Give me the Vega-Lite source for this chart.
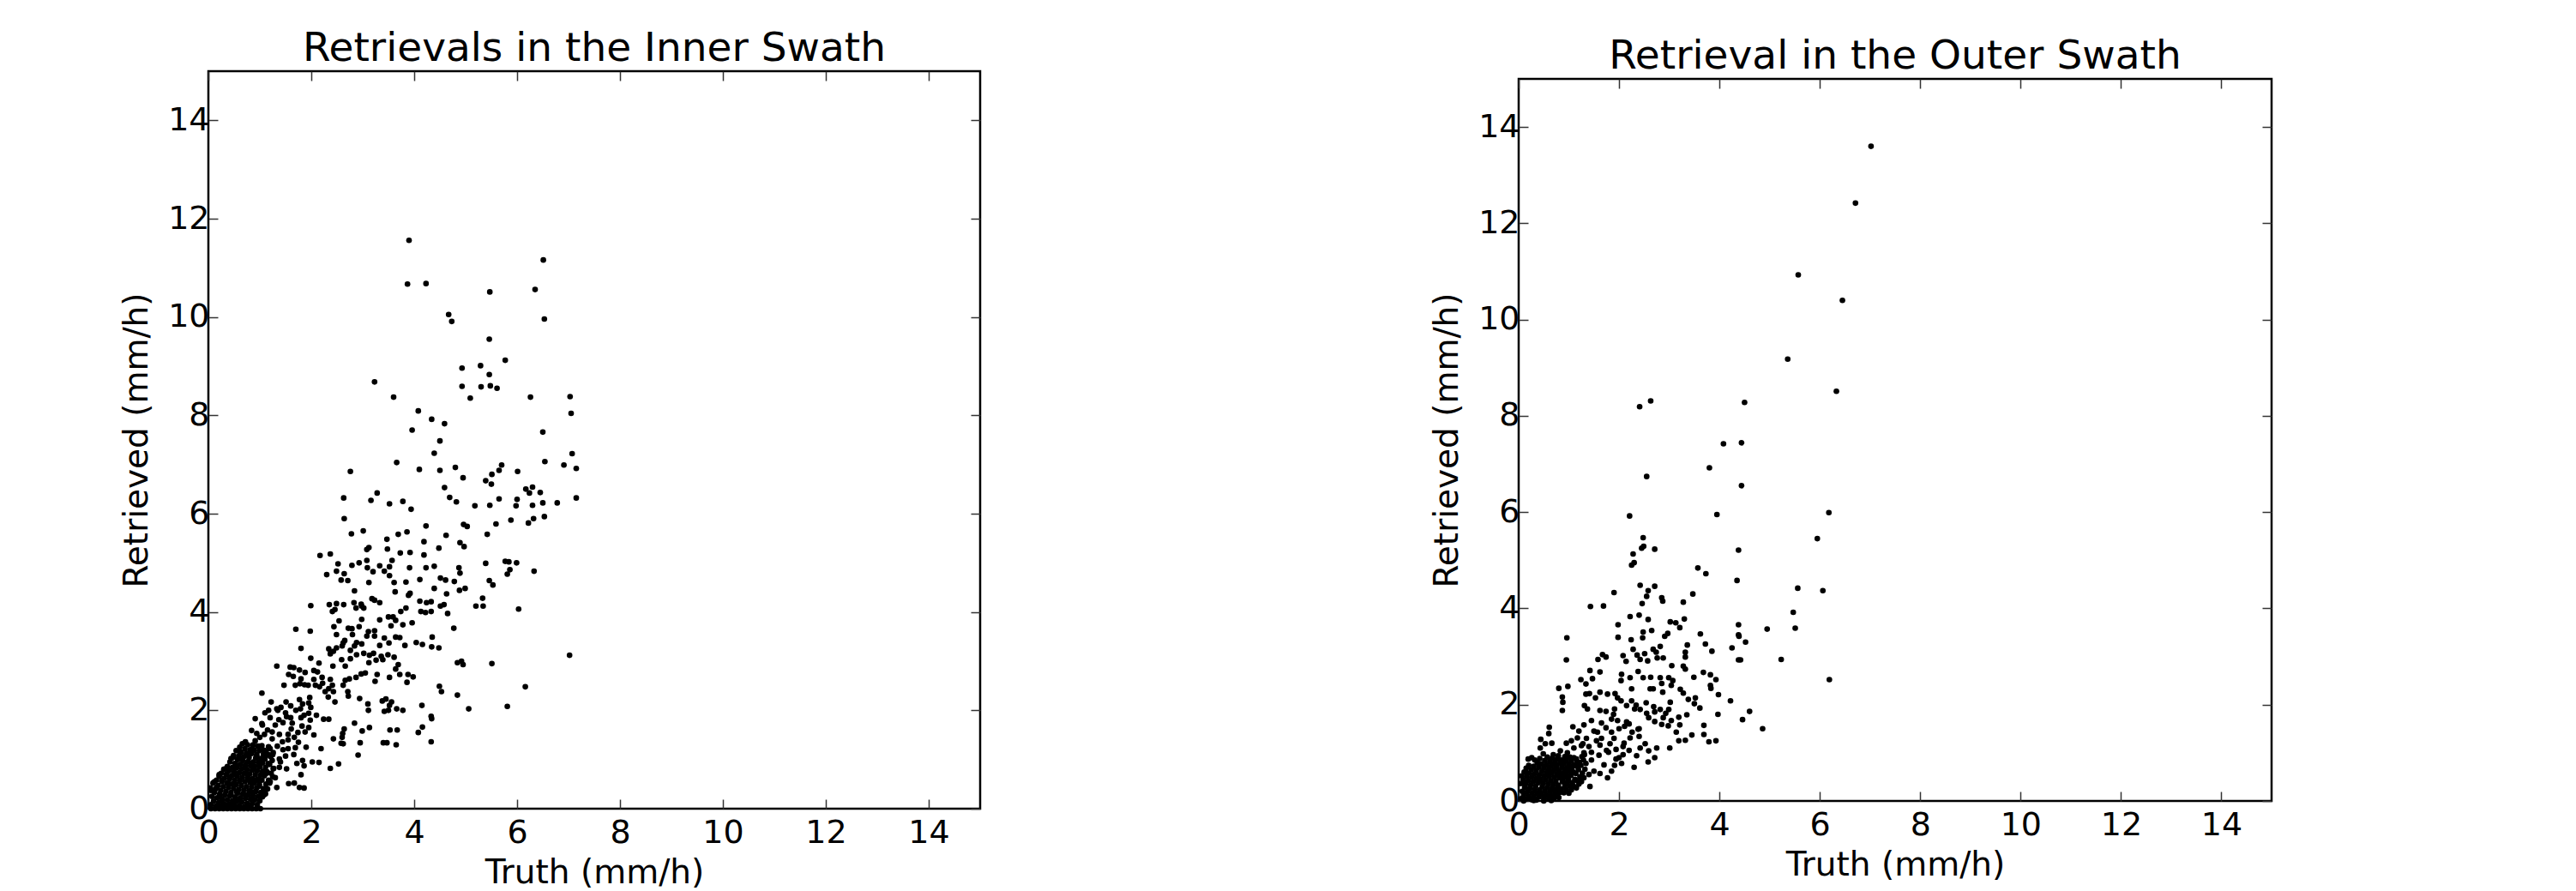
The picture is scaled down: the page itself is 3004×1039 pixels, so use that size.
{
"$schema": "https://vega.github.io/schema/vega-lite/v6.json",
"background": "white",
"padding": {"left": 139, "top": 32, "right": 0, "bottom": 0},
"bounds": "flush",
"center": true,
"spacing": 628,
"config": {
  "font": "DejaVu Sans",
  "view": {"stroke": "black", "strokeWidth": 2.5},
  "axis": {"grid": false, "domain": false, "ticks": true, "tickSize": -11, "tickColor": "#333333", "tickWidth": 1.5, "labelFontSize": 38, "labelColor": "black", "labelFont": "DejaVu Sans", "titleFontSize": 39, "titleFontWeight": "normal", "titleColor": "black", "titleFont": "DejaVu Sans", "labelFlush": false},
  "title": {"fontSize": 47, "fontWeight": "normal", "color": "black", "font": "DejaVu Sans", "offset": 1, "baseline": "alphabetic"},
  "point": {"filled": true, "color": "black", "size": 44, "opacity": 1, "strokeWidth": 0}
},
"datasets": {
"inner": [
{"truth":3.90,"retrieved":11.56},{"truth":3.87,"retrieved":10.67},{"truth":4.23,"retrieved":10.68},{"truth":4.67,"retrieved":10.05},{"truth":4.73,"retrieved":9.91},{"truth":5.47,"retrieved":10.51},{"truth":6.51,"retrieved":11.16},{"truth":6.35,"retrieved":10.56},{"truth":6.53,"retrieved":9.96},{"truth":5.46,"retrieved":9.55},{"truth":5.77,"retrieved":9.12},{"truth":4.93,"retrieved":8.96},{"truth":5.29,"retrieved":9.01},{"truth":5.46,"retrieved":8.83},{"truth":4.93,"retrieved":8.59},{"truth":5.30,"retrieved":8.58},{"truth":5.48,"retrieved":8.60},{"truth":5.61,"retrieved":8.55},{"truth":5.09,"retrieved":8.35},{"truth":3.23,"retrieved":8.68},{"truth":3.60,"retrieved":8.37},{"truth":6.26,"retrieved":8.37},{"truth":7.03,"retrieved":8.38},{"truth":7.05,"retrieved":8.04},{"truth":4.08,"retrieved":8.09},{"truth":4.34,"retrieved":7.92},{"truth":4.59,"retrieved":7.83},{"truth":3.96,"retrieved":7.70},{"truth":4.50,"retrieved":7.48},{"truth":6.50,"retrieved":7.66},{"truth":4.39,"retrieved":7.23},{"truth":7.07,"retrieved":7.22},{"truth":3.66,"retrieved":7.04},{"truth":6.54,"retrieved":7.06},{"truth":6.91,"retrieved":6.99},{"truth":2.76,"retrieved":6.86},{"truth":4.10,"retrieved":6.90},{"truth":4.50,"retrieved":6.88},{"truth":4.80,"retrieved":6.94},{"truth":4.95,"retrieved":6.73},{"truth":5.70,"retrieved":6.99},{"truth":5.65,"retrieved":6.88},{"truth":5.51,"retrieved":6.80},{"truth":5.39,"retrieved":6.67},{"truth":5.50,"retrieved":6.60},{"truth":6.01,"retrieved":6.86},{"truth":7.15,"retrieved":6.92},{"truth":4.59,"retrieved":6.53},{"truth":6.17,"retrieved":6.50},{"truth":6.30,"retrieved":6.54},{"truth":6.24,"retrieved":6.42},{"truth":6.45,"retrieved":6.43},{"truth":2.63,"retrieved":6.32},{"truth":3.16,"retrieved":6.27},{"truth":3.28,"retrieved":6.42},{"truth":3.52,"retrieved":6.20},{"truth":3.78,"retrieved":6.25},{"truth":3.94,"retrieved":6.09},{"truth":4.69,"retrieved":6.33},{"truth":4.82,"retrieved":6.24},{"truth":5.18,"retrieved":6.16},{"truth":5.47,"retrieved":6.17},{"truth":5.65,"retrieved":6.30},{"truth":5.98,"retrieved":6.16},{"truth":6.00,"retrieved":6.29},{"truth":6.30,"retrieved":6.17},{"truth":6.50,"retrieved":6.22},{"truth":6.78,"retrieved":6.22},{"truth":7.15,"retrieved":6.32},
{"truth":2.64,"retrieved":5.90},{"truth":4.23,"retrieved":5.75},{"truth":4.96,"retrieved":5.78},{"truth":5.03,"retrieved":5.74},{"truth":5.59,"retrieved":5.79},{"truth":5.88,"retrieved":5.87},{"truth":6.22,"retrieved":5.81},{"truth":6.32,"retrieved":5.90},{"truth":6.53,"retrieved":5.94},{"truth":2.78,"retrieved":5.59},{"truth":3.01,"retrieved":5.65},{"truth":3.69,"retrieved":5.58},{"truth":3.86,"retrieved":5.63},{"truth":4.62,"retrieved":5.56},{"truth":5.42,"retrieved":5.58},{"truth":3.47,"retrieved":5.48},{"truth":4.19,"retrieved":5.43},{"truth":4.89,"retrieved":5.41},{"truth":4.97,"retrieved":5.33},{"truth":3.12,"retrieved":5.31},{"truth":3.08,"retrieved":5.27},{"truth":4.48,"retrieved":5.30},{"truth":3.48,"retrieved":5.28},{"truth":3.73,"retrieved":5.20},{"truth":3.92,"retrieved":5.21},{"truth":4.19,"retrieved":5.16},{"truth":2.17,"retrieved":5.15},{"truth":2.37,"retrieved":5.18},{"truth":5.39,"retrieved":4.99},{"truth":5.77,"retrieved":5.03},{"truth":5.84,"retrieved":5.02},{"truth":5.99,"retrieved":5.00},{"truth":2.52,"retrieved":4.98},{"truth":2.79,"retrieved":4.95},{"truth":2.93,"retrieved":5.00},{"truth":3.08,"retrieved":5.05},{"truth":3.09,"retrieved":4.90},{"truth":3.20,"retrieved":4.82},{"truth":3.33,"retrieved":4.94},{"truth":3.52,"retrieved":4.92},{"truth":3.57,"retrieved":5.05},{"truth":3.42,"retrieved":4.83},{"truth":3.91,"retrieved":4.90},{"truth":4.23,"retrieved":4.90},{"truth":4.39,"retrieved":4.93},{"truth":4.87,"retrieved":4.90},{"truth":4.89,"retrieved":4.79},{"truth":6.33,"retrieved":4.83},{"truth":5.86,"retrieved":4.86},{"truth":5.81,"retrieved":4.77},{"truth":2.30,"retrieved":4.76},{"truth":2.49,"retrieved":4.83},{"truth":2.58,"retrieved":4.65},{"truth":2.71,"retrieved":4.64},{"truth":2.64,"retrieved":4.78},{"truth":3.12,"retrieved":4.60},{"truth":3.52,"retrieved":4.74},{"truth":3.61,"retrieved":4.60},{"truth":3.84,"retrieved":4.61},{"truth":4.11,"retrieved":4.66},{"truth":4.51,"retrieved":4.69},{"truth":4.61,"retrieved":4.65},{"truth":4.78,"retrieved":4.62},{"truth":5.46,"retrieved":4.64},{"truth":5.53,"retrieved":4.55},{"truth":2.84,"retrieved":4.43},{"truth":3.63,"retrieved":4.41},{"truth":3.89,"retrieved":4.34},{"truth":3.92,"retrieved":4.38},{"truth":4.39,"retrieved":4.48},{"truth":4.88,"retrieved":4.44},{"truth":4.99,"retrieved":4.48},{"truth":4.63,"retrieved":4.37},{"truth":5.33,"retrieved":4.28},{"truth":5.20,"retrieved":4.12},{"truth":5.34,"retrieved":4.12},{"truth":6.03,"retrieved":4.06},{"truth":1.99,"retrieved":4.13},{"truth":2.35,"retrieved":4.15},{"truth":2.49,"retrieved":4.17},{"truth":2.41,"retrieved":4.01},{"truth":2.46,"retrieved":4.05},{"truth":2.63,"retrieved":4.15},{"truth":2.83,"retrieved":4.19},{"truth":2.97,"retrieved":4.16},{"truth":3.02,"retrieved":4.08},{"truth":2.87,"retrieved":4.08},{"truth":2.98,"retrieved":4.12},{"truth":3.18,"retrieved":4.27},{"truth":3.23,"retrieved":4.24},{"truth":3.33,"retrieved":4.19},{"truth":4.11,"retrieved":4.22},{"truth":4.24,"retrieved":4.19},{"truth":4.33,"retrieved":4.21},{"truth":4.13,"retrieved":4.01},{"truth":4.22,"retrieved":3.99},{"truth":4.33,"retrieved":4.01},{"truth":4.51,"retrieved":4.12},{"truth":4.58,"retrieved":4.15},{"truth":4.65,"retrieved":3.97},{"truth":3.84,"retrieved":4.08},{"truth":3.74,"retrieved":4.01},{"truth":3.50,"retrieved":3.90},{"truth":3.59,"retrieved":3.90},{"truth":3.64,"retrieved":3.83},{"truth":3.78,"retrieved":3.74},{"truth":3.96,"retrieved":3.78},{"truth":2.54,"retrieved":3.82},{"truth":2.98,"retrieved":3.85},{"truth":3.33,"retrieved":3.84},{"truth":3.55,"retrieved":3.72},{"truth":1.70,"retrieved":3.65},{"truth":1.98,"retrieved":3.61},{"truth":2.44,"retrieved":3.70},{"truth":2.49,"retrieved":3.54},{"truth":2.72,"retrieved":3.67},{"truth":2.79,"retrieved":3.66},{"truth":2.93,"retrieved":3.70},{"truth":3.11,"retrieved":3.60},{"truth":3.23,"retrieved":3.62},{"truth":3.23,"retrieved":3.51},{"truth":3.08,"retrieved":3.51},{"truth":2.80,"retrieved":3.54},{"truth":3.42,"retrieved":3.47},{"truth":3.64,"retrieved":3.49},{"truth":3.72,"retrieved":3.48},{"truth":3.82,"retrieved":3.32},{"truth":3.51,"retrieved":3.37},{"truth":4.04,"retrieved":3.38},{"truth":4.16,"retrieved":3.34},{"truth":4.35,"retrieved":3.49},{"truth":4.34,"retrieved":3.29},{"truth":4.48,"retrieved":3.27},{"truth":4.77,"retrieved":3.67},{"truth":1.80,"retrieved":3.26},{"truth":1.99,"retrieved":3.06},{"truth":2.15,"retrieved":2.96},{"truth":2.34,"retrieved":3.25},{"truth":2.37,"retrieved":3.15},{"truth":2.43,"retrieved":3.20},{"truth":2.49,"retrieved":3.27},{"truth":2.60,"retrieved":3.31},{"truth":2.62,"retrieved":3.37},{"truth":2.65,"retrieved":3.42},{"truth":2.76,"retrieved":3.22},{"truth":2.84,"retrieved":3.31},{"truth":2.88,"retrieved":3.38},{"truth":2.98,"retrieved":3.35},{"truth":2.76,"retrieved":3.05},{"truth":2.88,"retrieved":3.13},{"truth":2.66,"retrieved":2.90},{"truth":2.59,"retrieved":3.03},{"truth":3.02,"retrieved":3.16},{"truth":3.13,"retrieved":3.12},{"truth":3.21,"retrieved":3.16},{"truth":3.36,"retrieved":3.10},{"truth":3.39,"retrieved":3.03},{"truth":3.49,"retrieved":3.13},{"truth":2.42,"retrieved":2.90},{"truth":3.12,"retrieved":2.97},{"truth":3.26,"retrieved":3.02},{"truth":3.33,"retrieved":3.32},{"truth":3.61,"retrieved":3.08},{"truth":3.69,"retrieved":2.93},{"truth":3.64,"retrieved":2.84},{"truth":4.84,"retrieved":2.97},{"truth":4.92,"retrieved":3.00},{"truth":4.95,"retrieved":2.93},{"truth":5.51,"retrieved":2.95},{"truth":7.02,"retrieved":3.12},{"truth":1.33,"retrieved":2.90},{"truth":1.59,"retrieved":2.88},{"truth":1.66,"retrieved":2.87},{"truth":1.56,"retrieved":2.73},{"truth":1.65,"retrieved":2.69},{"truth":1.77,"retrieved":2.82},{"truth":1.88,"retrieved":2.77},{"truth":1.80,"retrieved":2.64},{"truth":2.05,"retrieved":2.81},{"truth":2.12,"retrieved":2.78},{"truth":1.47,"retrieved":2.51},{"truth":1.69,"retrieved":2.51},{"truth":1.78,"retrieved":2.54},{"truth":1.87,"retrieved":2.52},{"truth":1.94,"retrieved":2.51},{"truth":2.05,"retrieved":2.63},{"truth":2.21,"retrieved":2.67},{"truth":2.08,"retrieved":2.51},{"truth":2.16,"retrieved":2.48},{"truth":2.22,"retrieved":2.55},{"truth":2.37,"retrieved":2.63},{"truth":2.41,"retrieved":2.51},{"truth":2.34,"retrieved":2.44},{"truth":2.43,"retrieved":2.38},{"truth":2.33,"retrieved":2.27},{"truth":2.62,"retrieved":2.51},{"truth":2.66,"retrieved":2.61},{"truth":2.74,"retrieved":2.64},{"truth":2.87,"retrieved":2.67},{"truth":2.97,"retrieved":2.74},{"truth":3.05,"retrieved":2.76},{"truth":3.24,"retrieved":2.59},{"truth":3.28,"retrieved":2.73},{"truth":3.52,"retrieved":2.67},{"truth":3.72,"retrieved":2.73},{"truth":3.88,"retrieved":2.73},{"truth":3.98,"retrieved":2.68},{"truth":3.86,"retrieved":2.57},{"truth":2.71,"retrieved":2.38},{"truth":2.72,"retrieved":2.29},{"truth":2.46,"retrieved":2.17},{"truth":2.27,"retrieved":2.38},{"truth":2.94,"retrieved":2.24},{"truth":3.10,"retrieved":2.13},{"truth":3.11,"retrieved":2.00},{"truth":3.38,"retrieved":2.19},{"truth":3.45,"retrieved":2.23},{"truth":3.56,"retrieved":2.17},{"truth":3.52,"retrieved":2.10},{"truth":3.50,"retrieved":2.00},{"truth":3.42,"retrieved":1.98},{"truth":3.66,"retrieved":2.03},{"truth":3.78,"retrieved":2.00},{"truth":4.15,"retrieved":2.10},{"truth":4.49,"retrieved":2.49},{"truth":4.53,"retrieved":2.38},{"truth":4.84,"retrieved":2.31},{"truth":5.06,"retrieved":2.03},{"truth":5.81,"retrieved":2.08},{"truth":6.16,"retrieved":2.48},{"truth":4.33,"retrieved":1.88},{"truth":4.34,"retrieved":1.83},{"truth":1.04,"retrieved":2.35},{"truth":1.17,"retrieved":2.00},{"truth":1.33,"retrieved":2.03},{"truth":1.41,"retrieved":2.06},{"truth":1.51,"retrieved":2.17},{"truth":1.60,"retrieved":2.09},{"truth":1.22,"retrieved":2.17},{"truth":1.77,"retrieved":2.22},{"truth":1.83,"retrieved":2.13},{"truth":1.97,"retrieved":2.26},{"truth":1.95,"retrieved":2.15},{"truth":1.99,"retrieved":2.06},{"truth":1.79,"retrieved":2.03},{"truth":1.86,"retrieved":1.90},{"truth":1.80,"retrieved":1.85},{"truth":1.52,"retrieved":1.87},{"truth":1.37,"retrieved":1.81},{"truth":1.95,"retrieved":1.94},{"truth":1.98,"retrieved":1.80},{"truth":1.63,"retrieved":1.74},{"truth":1.61,"retrieved":1.62},{"truth":1.82,"retrieved":1.68},{"truth":1.88,"retrieved":1.56},{"truth":1.74,"retrieved":1.55},{"truth":1.55,"retrieved":1.51},{"truth":1.67,"retrieved":1.45},{"truth":2.24,"retrieved":1.82},{"truth":2.34,"retrieved":1.82},{"truth":2.84,"retrieved":1.74},{"truth":2.99,"retrieved":1.58},{"truth":3.13,"retrieved":1.65},{"truth":2.64,"retrieved":1.62},{"truth":2.61,"retrieved":1.53},{"truth":2.60,"retrieved":1.45},{"truth":2.43,"retrieved":1.42},{"truth":2.58,"retrieved":1.33},{"truth":2.62,"retrieved":1.32},{"truth":2.19,"retrieved":1.22},{"truth":2.95,"retrieved":1.34},{"truth":3.40,"retrieved":1.34},{"truth":3.47,"retrieved":1.34},{"truth":3.65,"retrieved":1.30},{"truth":3.53,"retrieved":1.60},{"truth":3.67,"retrieved":1.60},{"truth":4.08,"retrieved":1.55},{"truth":4.16,"retrieved":1.66},{"truth":4.33,"retrieved":1.36},{"truth":2.91,"retrieved":1.09},{"truth":2.37,"retrieved":0.82},{"truth":2.53,"retrieved":0.91},{"truth":2.15,"retrieved":0.94},{"truth":2.02,"retrieved":0.95},{"truth":1.86,"retrieved":0.87},{"truth":1.80,"retrieved":0.69},{"truth":1.86,"retrieved":0.42},{"truth":1.77,"retrieved":0.43},{"truth":1.56,"retrieved":0.51},{"truth":1.67,"retrieved":0.52},{"truth":0.91,"retrieved":1.83},{"truth":1.04,"retrieved":1.73},{"truth":0.84,"retrieved":1.59},{"truth":0.94,"retrieved":1.53},{"truth":1.09,"retrieved":1.51},{"truth":1.24,"retrieved":1.56},{"truth":1.24,"retrieved":1.42},{"truth":1.38,"retrieved":1.51},{"truth":1.44,"retrieved":1.36},{"truth":1.34,"retrieved":1.27},{"truth":1.55,"retrieved":1.22},{"truth":1.69,"retrieved":1.24},{"truth":1.50,"retrieved":1.07},{"truth":1.66,"retrieved":1.10},{"truth":1.72,"retrieved":0.92},{"truth":1.83,"retrieved":0.98},{"truth":1.38,"retrieved":0.84},{"truth":1.38,"retrieved":1.01},{"truth":1.52,"retrieved":0.81},{"truth":1.26,"retrieved":0.81},{"truth":1.30,"retrieved":0.63},{"truth":1.13,"retrieved":0.72},{"truth":0.72,"retrieved":1.36},{"truth":0.87,"retrieved":1.30},{"truth":0.99,"retrieved":1.27},{"truth":1.08,"retrieved":1.19},{"truth":0.61,"retrieved":1.16},{"truth":0.66,"retrieved":1.04},{"truth":0.48,"retrieved":1.04},{"truth":0.52,"retrieved":0.92},{"truth":0.77,"retrieved":1.10},{"truth":0.94,"retrieved":1.07},{"truth":1.16,"retrieved":1.10},{"truth":0.49,"retrieved":0.69},{"truth":0.33,"retrieved":0.81},{"truth":0.12,"retrieved":0.55},{"truth":0.21,"retrieved":0.69},{"truth":0.05,"retrieved":0.37},{"truth":0.16,"retrieved":0.43},{"truth":0.22,"retrieved":0.26},{"truth":0.27,"retrieved":0.17},{"truth":0.38,"retrieved":0.52},{"truth":0.61,"retrieved":0.58},{"truth":0.77,"retrieved":0.60},{"truth":0.94,"retrieved":0.58},{"truth":0.99,"retrieved":0.46},{"truth":1.11,"retrieved":0.40},{"truth":0.86,"retrieved":0.34},{"truth":0.72,"retrieved":0.28},{"truth":0.55,"retrieved":0.34},{"truth":0.44,"retrieved":0.28},{"truth":0.44,"retrieved":0.08},{"truth":1.08,"retrieved":0.28},{"truth":1.11,"retrieved":0.30},{"truth":0.61,"retrieved":0.17},{"truth":0.88,"retrieved":0.81},{"truth":0.99,"retrieved":0.87},{"truth":0.72,"retrieved":0.87},{"truth":0.55,"retrieved":0.84},{"truth":0.77,"retrieved":0.69},{"truth":0.41,"retrieved":0.63},{"truth":0.27,"retrieved":0.58},{"truth":1.05,"retrieved":0.75},{"truth":1.19,"retrieved":0.52},{"truth":1.33,"retrieved":0.43},
{"truth":1.15,"retrieved":1.60},{"truth":1.20,"retrieved":1.85},{"truth":1.30,"retrieved":1.70},{"truth":1.35,"retrieved":2.00},{"truth":1.45,"retrieved":1.75},{"truth":1.50,"retrieved":1.95},{"truth":1.25,"retrieved":1.10},{"truth":1.40,"retrieved":0.95},{"truth":1.45,"retrieved":1.20},{"truth":1.55,"retrieved":1.40},{"truth":1.60,"retrieved":1.85},{"truth":1.70,"retrieved":2.00},{"truth":1.75,"retrieved":1.35},{"truth":1.90,"retrieved":1.25},{"truth":1.95,"retrieved":1.65},{"truth":2.05,"retrieved":1.50},{"truth":2.10,"retrieved":1.90},{"truth":1.00,"retrieved":1.45},{"truth":1.05,"retrieved":1.70},{"truth":1.10,"retrieved":1.95},
{"truth":0.05,"retrieved":0.08},{"truth":0.07,"retrieved":0.25},{"truth":0.04,"retrieved":0.42},{"truth":0.10,"retrieved":0.15},{"truth":0.12,"retrieved":0.33},{"truth":0.09,"retrieved":0.52},{"truth":0.15,"retrieved":0.05},{"truth":0.17,"retrieved":0.22},{"truth":0.14,"retrieved":0.40},{"truth":0.16,"retrieved":0.58},{"truth":0.20,"retrieved":0.12},{"truth":0.22,"retrieved":0.30},{"truth":0.19,"retrieved":0.47},{"truth":0.21,"retrieved":0.66},{"truth":0.25,"retrieved":0.04},{"truth":0.27,"retrieved":0.20},{"truth":0.24,"retrieved":0.37},{"truth":0.26,"retrieved":0.55},{"truth":0.25,"retrieved":0.72},{"truth":0.30,"retrieved":0.10},{"truth":0.32,"retrieved":0.28},{"truth":0.29,"retrieved":0.45},{"truth":0.31,"retrieved":0.62},{"truth":0.30,"retrieved":0.80},{"truth":0.35,"retrieved":0.03},{"truth":0.37,"retrieved":0.18},{"truth":0.34,"retrieved":0.35},{"truth":0.36,"retrieved":0.52},{"truth":0.35,"retrieved":0.70},{"truth":0.37,"retrieved":0.86},{"truth":0.40,"retrieved":0.09},{"truth":0.42,"retrieved":0.26},{"truth":0.39,"retrieved":0.43},{"truth":0.41,"retrieved":0.60},{"truth":0.40,"retrieved":0.77},{"truth":0.42,"retrieved":0.95},{"truth":0.45,"retrieved":0.02},{"truth":0.47,"retrieved":0.16},{"truth":0.44,"retrieved":0.33},{"truth":0.46,"retrieved":0.50},{"truth":0.45,"retrieved":0.67},{"truth":0.47,"retrieved":0.84},{"truth":0.44,"retrieved":1.02},{"truth":0.50,"retrieved":0.08},{"truth":0.52,"retrieved":0.24},{"truth":0.49,"retrieved":0.41},{"truth":0.51,"retrieved":0.58},{"truth":0.50,"retrieved":0.75},{"truth":0.52,"retrieved":0.92},{"truth":0.49,"retrieved":1.08},{"truth":0.55,"retrieved":0.15},{"truth":0.57,"retrieved":0.32},{"truth":0.54,"retrieved":0.49},{"truth":0.56,"retrieved":0.66},{"truth":0.55,"retrieved":0.83},{"truth":0.57,"retrieved":1.00},{"truth":0.54,"retrieved":1.18},{"truth":0.60,"retrieved":0.06},{"truth":0.62,"retrieved":0.22},{"truth":0.59,"retrieved":0.39},{"truth":0.61,"retrieved":0.56},{"truth":0.60,"retrieved":0.73},{"truth":0.62,"retrieved":0.90},{"truth":0.59,"retrieved":1.07},{"truth":0.61,"retrieved":1.25},{"truth":0.65,"retrieved":0.13},{"truth":0.67,"retrieved":0.30},{"truth":0.64,"retrieved":0.47},{"truth":0.66,"retrieved":0.64},{"truth":0.65,"retrieved":0.81},{"truth":0.67,"retrieved":0.98},{"truth":0.64,"retrieved":1.15},{"truth":0.66,"retrieved":1.32},{"truth":0.70,"retrieved":0.04},{"truth":0.72,"retrieved":0.21},{"truth":0.69,"retrieved":0.38},{"truth":0.71,"retrieved":0.55},{"truth":0.70,"retrieved":0.72},{"truth":0.72,"retrieved":0.89},{"truth":0.69,"retrieved":1.06},{"truth":0.71,"retrieved":1.22},{"truth":0.75,"retrieved":0.11},{"truth":0.77,"retrieved":0.28},{"truth":0.74,"retrieved":0.45},{"truth":0.76,"retrieved":0.62},{"truth":0.75,"retrieved":0.79},{"truth":0.77,"retrieved":0.96},{"truth":0.74,"retrieved":1.13},{"truth":0.76,"retrieved":1.30},{"truth":0.80,"retrieved":0.03},{"truth":0.82,"retrieved":0.19},{"truth":0.79,"retrieved":0.36},{"truth":0.81,"retrieved":0.53},{"truth":0.80,"retrieved":0.70},{"truth":0.82,"retrieved":0.87},{"truth":0.79,"retrieved":1.04},{"truth":0.81,"retrieved":1.20},{"truth":0.85,"retrieved":0.10},{"truth":0.87,"retrieved":0.27},{"truth":0.84,"retrieved":0.44},{"truth":0.86,"retrieved":0.61},{"truth":0.85,"retrieved":0.78},{"truth":0.87,"retrieved":0.95},{"truth":0.84,"retrieved":1.12},{"truth":0.86,"retrieved":1.28},{"truth":0.90,"retrieved":0.18},{"truth":0.92,"retrieved":0.35},{"truth":0.89,"retrieved":0.52},{"truth":0.91,"retrieved":0.69},{"truth":0.90,"retrieved":0.86},{"truth":0.92,"retrieved":1.03},{"truth":0.89,"retrieved":1.19},{"truth":0.91,"retrieved":1.38},{"truth":0.95,"retrieved":0.08},{"truth":0.97,"retrieved":0.25},{"truth":0.94,"retrieved":0.42},{"truth":0.96,"retrieved":0.60},{"truth":0.95,"retrieved":0.77},{"truth":0.97,"retrieved":0.94},{"truth":0.94,"retrieved":1.10},{"truth":0.96,"retrieved":1.27},{"truth":1.00,"retrieved":0.16},{"truth":1.02,"retrieved":0.33},{"truth":0.99,"retrieved":0.50},{"truth":1.01,"retrieved":0.68},{"truth":1.00,"retrieved":0.85},{"truth":1.02,"retrieved":1.02},{"truth":0.99,"retrieved":1.18},{"truth":1.05,"retrieved":0.24},{"truth":1.07,"retrieved":0.41},{"truth":1.04,"retrieved":0.58},{"truth":1.06,"retrieved":0.76},{"truth":1.05,"retrieved":0.93},{"truth":1.07,"retrieved":1.10},{"truth":1.04,"retrieved":1.28},{"truth":1.10,"retrieved":0.32},{"truth":1.12,"retrieved":0.50},{"truth":1.09,"retrieved":0.67},{"truth":1.11,"retrieved":0.84},{"truth":1.10,"retrieved":1.01},{"truth":1.12,"retrieved":1.17},{"truth":1.15,"retrieved":0.40},{"truth":1.17,"retrieved":0.58},{"truth":1.14,"retrieved":0.75},{"truth":1.16,"retrieved":0.92},{"truth":1.15,"retrieved":1.09},{"truth":1.17,"retrieved":1.26},{"truth":1.20,"retrieved":0.55},{"truth":1.22,"retrieved":0.72},{"truth":1.19,"retrieved":0.90},{"truth":1.21,"retrieved":1.06},{"truth":1.20,"retrieved":1.22},{"truth":1.25,"retrieved":0.65},{"truth":1.27,"retrieved":0.82},{"truth":1.24,"retrieved":0.98},{"truth":1.26,"retrieved":1.14},
{"truth":0.05,"retrieved":0},{"truth":0.13,"retrieved":0},{"truth":0.21,"retrieved":0},{"truth":0.29,"retrieved":0},{"truth":0.37,"retrieved":0},{"truth":0.45,"retrieved":0},{"truth":0.53,"retrieved":0},{"truth":0.61,"retrieved":0},{"truth":0.69,"retrieved":0},{"truth":0.77,"retrieved":0},{"truth":0.85,"retrieved":0},{"truth":0.93,"retrieved":0},{"truth":1.01,"retrieved":0}
],
"outer": [
{"truth":7.02,"retrieved":13.60},{"truth":6.71,"retrieved":12.42},{"truth":5.57,"retrieved":10.93},{"truth":6.45,"retrieved":10.40},{"truth":5.36,"retrieved":9.18},{"truth":6.33,"retrieved":8.51},{"truth":2.63,"retrieved":8.31},{"truth":2.41,"retrieved":8.19},{"truth":4.50,"retrieved":8.28},{"truth":4.08,"retrieved":7.42},{"truth":4.44,"retrieved":7.44},{"truth":3.80,"retrieved":6.92},{"truth":2.55,"retrieved":6.74},
{"truth":4.44,"retrieved":6.55},{"truth":2.21,"retrieved":5.92},{"truth":3.95,"retrieved":5.95},{"truth":6.18,"retrieved":5.99},{"truth":2.48,"retrieved":5.47},{"truth":2.49,"retrieved":5.29},{"truth":2.45,"retrieved":5.25},{"truth":2.71,"retrieved":5.23},{"truth":2.28,"retrieved":5.13},{"truth":2.25,"retrieved":4.90},{"truth":2.30,"retrieved":4.95},{"truth":4.38,"retrieved":5.21},{"truth":5.95,"retrieved":5.45},{"truth":3.57,"retrieved":4.84},{"truth":3.73,"retrieved":4.72},{"truth":4.35,"retrieved":4.58},{"truth":1.90,"retrieved":4.33},{"truth":2.42,"retrieved":4.48},{"truth":2.58,"retrieved":4.37},{"truth":2.55,"retrieved":4.25},{"truth":2.71,"retrieved":4.46},{"truth":2.85,"retrieved":4.22},{"truth":2.87,"retrieved":4.15},{"truth":2.46,"retrieved":4.10},{"truth":3.28,"retrieved":4.13},{"truth":3.47,"retrieved":4.30},{"truth":5.56,"retrieved":4.42},{"truth":6.06,"retrieved":4.37},{"truth":1.43,"retrieved":4.04},{"truth":1.69,"retrieved":4.05},{"truth":2.22,"retrieved":3.83},{"truth":2.40,"retrieved":3.86},{"truth":2.58,"retrieved":3.77},{"truth":3.30,"retrieved":3.78},{"truth":3.02,"retrieved":3.72},{"truth":3.13,"retrieved":3.70},{"truth":3.21,"retrieved":3.60},{"truth":1.98,"retrieved":3.66},{"truth":5.47,"retrieved":3.92},{"truth":5.51,"retrieved":3.59},{"truth":4.95,"retrieved":3.57},{"truth":4.38,"retrieved":3.66},{"truth":4.38,"retrieved":3.45},{"truth":4.39,"retrieved":3.42},{"truth":4.52,"retrieved":3.30},{"truth":1.98,"retrieved":3.40},{"truth":0.96,"retrieved":3.39},{"truth":2.24,"retrieved":3.35},{"truth":2.48,"retrieved":3.51},{"truth":2.47,"retrieved":3.39},{"truth":2.65,"retrieved":3.54},{"truth":2.91,"retrieved":3.42},{"truth":2.97,"retrieved":3.48},{"truth":3.62,"retrieved":3.47},{"truth":3.72,"retrieved":3.26},{"truth":3.36,"retrieved":3.24},{"truth":4.25,"retrieved":3.18},{"truth":3.85,"retrieved":3.11},{"truth":4.38,"retrieved":2.93},{"truth":4.42,"retrieved":2.93},{"truth":5.23,"retrieved":2.94},{"truth":6.19,"retrieved":2.52},{"truth":0.95,"retrieved":2.93},{"truth":1.58,"retrieved":2.94},{"truth":1.74,"retrieved":2.99},{"truth":1.67,"retrieved":3.04},{"truth":2.08,"retrieved":3.02},{"truth":2.14,"retrieved":2.90},{"truth":2.28,"retrieved":3.15},{"truth":2.36,"retrieved":3.03},{"truth":2.42,"retrieved":2.94},{"truth":2.51,"retrieved":3.06},{"truth":2.57,"retrieved":2.91},{"truth":2.68,"retrieved":3.15},{"truth":2.74,"retrieved":3.09},{"truth":2.82,"retrieved":3.21},{"truth":2.76,"retrieved":2.97},{"truth":2.88,"retrieved":2.97},{"truth":3.05,"retrieved":2.81},{"truth":3.32,"retrieved":3.09},{"truth":3.32,"retrieved":2.99},{"truth":3.28,"retrieved":2.80},{"truth":3.32,"retrieved":2.74},{"truth":1.42,"retrieved":2.71},{"truth":2.05,"retrieved":2.63},{"truth":2.04,"retrieved":2.50},{"truth":1.62,"retrieved":2.68},{"truth":1.24,"retrieved":2.52},{"truth":1.34,"retrieved":2.43},{"truth":1.47,"retrieved":2.54},{"truth":0.80,"retrieved":2.34},{"truth":0.98,"retrieved":2.38},{"truth":2.22,"retrieved":2.56},{"truth":2.25,"retrieved":2.33},{"truth":2.38,"retrieved":2.69},{"truth":2.48,"retrieved":2.56},{"truth":2.63,"retrieved":2.57},{"truth":2.62,"retrieved":2.33},{"truth":2.68,"retrieved":2.33},{"truth":2.82,"retrieved":2.56},{"truth":2.85,"retrieved":2.44},{"truth":2.99,"retrieved":2.56},{"truth":3.07,"retrieved":2.50},{"truth":3.04,"retrieved":2.40},{"truth":2.87,"retrieved":2.26},{"truth":3.22,"retrieved":2.32},{"truth":3.28,"retrieved":2.24},{"truth":3.49,"retrieved":2.57},{"truth":3.68,"retrieved":2.67},{"truth":3.82,"retrieved":2.62},{"truth":3.82,"retrieved":2.40},{"truth":3.83,"retrieved":2.34},{"truth":3.93,"retrieved":2.52},{"truth":3.98,"retrieved":2.21},{"truth":3.38,"retrieved":2.11},{"truth":3.52,"retrieved":2.14},{"truth":3.61,"retrieved":1.93},{"truth":3.50,"retrieved":2.02},{"truth":4.22,"retrieved":2.08},{"truth":0.87,"retrieved":2.16},{"truth":0.88,"retrieved":2.05},{"truth":0.87,"retrieved":1.88},{"truth":1.31,"retrieved":1.98},{"truth":1.37,"retrieved":1.91},{"truth":1.34,"retrieved":2.22},{"truth":1.41,"retrieved":2.23},{"truth":1.53,"retrieved":2.14},{"truth":1.62,"retrieved":2.26},{"truth":1.77,"retrieved":2.22},{"truth":1.62,"retrieved":1.88},{"truth":1.74,"retrieved":1.86},{"truth":1.89,"retrieved":1.80},{"truth":1.92,"retrieved":2.23},{"truth":1.97,"retrieved":2.14},{"truth":1.91,"retrieved":1.91},{"truth":2.04,"retrieved":2.08},{"truth":2.15,"retrieved":1.98},{"truth":2.25,"retrieved":2.08},{"truth":2.31,"retrieved":1.91},{"truth":2.34,"retrieved":1.99},{"truth":2.42,"retrieved":1.90},{"truth":2.54,"retrieved":2.04},{"truth":2.55,"retrieved":1.82},{"truth":2.69,"retrieved":1.96},{"truth":2.71,"retrieved":1.85},{"truth":2.82,"retrieved":1.90},{"truth":2.88,"retrieved":1.73},{"truth":2.99,"retrieved":1.90},{"truth":3.02,"retrieved":2.05},{"truth":2.93,"retrieved":1.82},{"truth":2.59,"retrieved":1.73},{"truth":2.71,"retrieved":1.65},{"truth":2.85,"retrieved":1.59},{"truth":2.98,"retrieved":1.56},{"truth":3.04,"retrieved":1.67},{"truth":3.19,"retrieved":1.74},{"truth":3.35,"retrieved":1.79},{"truth":3.21,"retrieved":1.58},{"truth":3.14,"retrieved":1.43},{"truth":3.19,"retrieved":1.25},{"truth":3.32,"retrieved":1.26},{"truth":3.45,"retrieved":1.37},{"truth":3.69,"retrieved":1.57},{"truth":3.69,"retrieved":1.38},{"truth":3.79,"retrieved":1.23},{"truth":3.93,"retrieved":1.25},{"truth":3.97,"retrieved":1.80},{"truth":4.46,"retrieved":1.69},{"truth":4.60,"retrieved":1.86},{"truth":4.86,"retrieved":1.50},{"truth":2.15,"retrieved":1.64},{"truth":2.11,"retrieved":1.55},{"truth":2.22,"retrieved":1.31},{"truth":2.26,"retrieved":1.43},{"truth":2.38,"retrieved":1.49},{"truth":2.40,"retrieved":1.34},{"truth":2.42,"retrieved":1.10},{"truth":2.52,"retrieved":1.19},{"truth":2.59,"retrieved":1.04},{"truth":2.75,"retrieved":1.10},{"truth":2.71,"retrieved":0.90},{"truth":2.58,"retrieved":0.81},{"truth":3.01,"retrieved":1.10},{"truth":2.35,"retrieved":0.94},{"truth":1.97,"retrieved":1.67},{"truth":1.45,"retrieved":1.67},{"truth":1.30,"retrieved":1.58},{"truth":1.08,"retrieved":1.54},{"truth":0.61,"retrieved":1.53},{"truth":0.60,"retrieved":1.40},{"truth":0.44,"retrieved":1.28},{"truth":0.53,"retrieved":1.19},{"truth":0.66,"retrieved":1.20},{"truth":0.43,"retrieved":1.10},{"truth":0.83,"retrieved":1.04},{"truth":0.19,"retrieved":0.87},{"truth":0.26,"retrieved":0.90},{"truth":0.14,"retrieved":0.60},{"truth":0.11,"retrieved":0.36},{"truth":1.57,"retrieved":1.43},{"truth":1.74,"retrieved":1.52},{"truth":1.65,"retrieved":1.62},{"truth":1.85,"retrieved":1.43},{"truth":1.17,"retrieved":1.31},{"truth":1.28,"retrieved":1.19},{"truth":1.40,"retrieved":1.13},{"truth":1.62,"retrieved":1.16},{"truth":1.82,"retrieved":1.19},{"truth":1.94,"retrieved":1.07},{"truth":2.08,"retrieved":1.13},{"truth":2.08,"retrieved":0.96},{"truth":1.94,"retrieved":0.87},{"truth":1.79,"retrieved":1.01},{"truth":1.91,"retrieved":0.74},{"truth":2.05,"retrieved":0.78},{"truth":1.62,"retrieved":0.57},{"truth":1.77,"retrieved":0.48},{"truth":1.42,"retrieved":0.30},{"truth":1.45,"retrieved":1.01},{"truth":1.31,"retrieved":0.96},{"truth":1.34,"retrieved":0.78},{"truth":1.22,"retrieved":0.42},{"truth":1.05,"retrieved":0.72},{"truth":1.17,"retrieved":0.81},{"truth":0.94,"retrieved":0.84},{"truth":0.94,"retrieved":0.60},{"truth":0.71,"retrieved":0.78},{"truth":0.77,"retrieved":0.54},
{"truth":1.30,"retrieved":1.00},{"truth":1.45,"retrieved":0.85},{"truth":1.50,"retrieved":0.62},{"truth":1.55,"retrieved":1.25},{"truth":1.60,"retrieved":0.95},{"truth":1.70,"retrieved":0.75},{"truth":1.75,"retrieved":1.05},{"truth":1.85,"retrieved":0.62},{"truth":1.90,"retrieved":1.30},{"truth":2.00,"retrieved":0.90},{"truth":2.10,"retrieved":1.20},{"truth":2.20,"retrieved":1.05},{"truth":2.30,"retrieved":0.70},{"truth":1.40,"retrieved":0.55},{"truth":1.35,"retrieved":1.30},{"truth":1.25,"retrieved":1.15},{"truth":1.50,"retrieved":1.45},{"truth":1.65,"retrieved":1.30},{"truth":1.20,"retrieved":1.45},{"truth":1.10,"retrieved":1.10},{"truth":1.05,"retrieved":1.25},{"truth":0.95,"retrieved":1.20},{"truth":2.00,"retrieved":1.50},{"truth":2.20,"retrieved":1.60},{"truth":1.85,"retrieved":1.70},{"truth":2.40,"retrieved":1.50},
{"truth":0.05,"retrieved":0.05},{"truth":0.07,"retrieved":0.20},{"truth":0.04,"retrieved":0.36},{"truth":0.06,"retrieved":0.52},{"truth":0.10,"retrieved":0.12},{"truth":0.12,"retrieved":0.28},{"truth":0.09,"retrieved":0.44},{"truth":0.11,"retrieved":0.60},{"truth":0.15,"retrieved":0.04},{"truth":0.17,"retrieved":0.19},{"truth":0.14,"retrieved":0.35},{"truth":0.16,"retrieved":0.51},{"truth":0.15,"retrieved":0.68},{"truth":0.20,"retrieved":0.10},{"truth":0.22,"retrieved":0.26},{"truth":0.19,"retrieved":0.42},{"truth":0.21,"retrieved":0.58},{"truth":0.20,"retrieved":0.74},{"truth":0.25,"retrieved":0.03},{"truth":0.27,"retrieved":0.17},{"truth":0.24,"retrieved":0.33},{"truth":0.26,"retrieved":0.49},{"truth":0.25,"retrieved":0.65},{"truth":0.30,"retrieved":0.09},{"truth":0.32,"retrieved":0.24},{"truth":0.29,"retrieved":0.40},{"truth":0.31,"retrieved":0.56},{"truth":0.30,"retrieved":0.72},{"truth":0.32,"retrieved":0.85},{"truth":0.35,"retrieved":0.02},{"truth":0.37,"retrieved":0.16},{"truth":0.34,"retrieved":0.31},{"truth":0.36,"retrieved":0.47},{"truth":0.35,"retrieved":0.63},{"truth":0.37,"retrieved":0.79},{"truth":0.40,"retrieved":0.08},{"truth":0.42,"retrieved":0.23},{"truth":0.39,"retrieved":0.38},{"truth":0.41,"retrieved":0.54},{"truth":0.40,"retrieved":0.70},{"truth":0.42,"retrieved":0.88},{"truth":0.45,"retrieved":0.14},{"truth":0.47,"retrieved":0.30},{"truth":0.44,"retrieved":0.45},{"truth":0.46,"retrieved":0.61},{"truth":0.45,"retrieved":0.77},{"truth":0.50,"retrieved":0.06},{"truth":0.52,"retrieved":0.21},{"truth":0.49,"retrieved":0.37},{"truth":0.51,"retrieved":0.52},{"truth":0.50,"retrieved":0.68},{"truth":0.52,"retrieved":0.84},{"truth":0.49,"retrieved":0.98},{"truth":0.55,"retrieved":0.13},{"truth":0.57,"retrieved":0.28},{"truth":0.54,"retrieved":0.44},{"truth":0.56,"retrieved":0.59},{"truth":0.55,"retrieved":0.75},{"truth":0.57,"retrieved":0.91},{"truth":0.60,"retrieved":0.05},{"truth":0.62,"retrieved":0.20},{"truth":0.59,"retrieved":0.35},{"truth":0.61,"retrieved":0.51},{"truth":0.60,"retrieved":0.66},{"truth":0.62,"retrieved":0.82},{"truth":0.65,"retrieved":0.12},{"truth":0.67,"retrieved":0.27},{"truth":0.64,"retrieved":0.42},{"truth":0.66,"retrieved":0.58},{"truth":0.65,"retrieved":0.73},{"truth":0.67,"retrieved":0.89},{"truth":0.70,"retrieved":0.04},{"truth":0.72,"retrieved":0.19},{"truth":0.69,"retrieved":0.34},{"truth":0.71,"retrieved":0.49},{"truth":0.70,"retrieved":0.64},{"truth":0.72,"retrieved":0.80},{"truth":0.69,"retrieved":0.96},{"truth":0.75,"retrieved":0.11},{"truth":0.77,"retrieved":0.26},{"truth":0.74,"retrieved":0.41},{"truth":0.76,"retrieved":0.56},{"truth":0.75,"retrieved":0.71},{"truth":0.77,"retrieved":0.87},{"truth":0.80,"retrieved":0.07},{"truth":0.82,"retrieved":0.18},{"truth":0.79,"retrieved":0.33},{"truth":0.81,"retrieved":0.48},{"truth":0.80,"retrieved":0.63},{"truth":0.82,"retrieved":0.78},{"truth":0.79,"retrieved":0.94},{"truth":0.85,"retrieved":0.25},{"truth":0.87,"retrieved":0.40},{"truth":0.84,"retrieved":0.55},{"truth":0.86,"retrieved":0.70},{"truth":0.85,"retrieved":0.85},{"truth":0.90,"retrieved":0.17},{"truth":0.92,"retrieved":0.32},{"truth":0.89,"retrieved":0.47},{"truth":0.91,"retrieved":0.62},{"truth":0.90,"retrieved":0.77},{"truth":0.92,"retrieved":0.92},{"truth":0.95,"retrieved":0.24},{"truth":0.97,"retrieved":0.39},{"truth":0.94,"retrieved":0.54},{"truth":0.96,"retrieved":0.69},{"truth":0.95,"retrieved":0.84},{"truth":0.97,"retrieved":1.00},{"truth":1.00,"retrieved":0.16},{"truth":1.02,"retrieved":0.31},{"truth":0.99,"retrieved":0.46},{"truth":1.01,"retrieved":0.61},{"truth":1.00,"retrieved":0.76},{"truth":1.02,"retrieved":0.91},{"truth":1.05,"retrieved":0.23},{"truth":1.07,"retrieved":0.38},{"truth":1.04,"retrieved":0.53},{"truth":1.06,"retrieved":0.68},{"truth":1.05,"retrieved":0.83},{"truth":1.10,"retrieved":0.30},{"truth":1.12,"retrieved":0.45},{"truth":1.09,"retrieved":0.60},{"truth":1.11,"retrieved":0.75},{"truth":1.10,"retrieved":0.90},{"truth":1.15,"retrieved":0.27},{"truth":1.17,"retrieved":0.42},{"truth":1.14,"retrieved":0.57},{"truth":1.16,"retrieved":0.72},{"truth":1.15,"retrieved":0.87},{"truth":1.20,"retrieved":0.35},{"truth":1.22,"retrieved":0.50},{"truth":1.19,"retrieved":0.65},{"truth":1.21,"retrieved":0.80},{"truth":1.25,"retrieved":0.40},{"truth":1.27,"retrieved":0.58},{"truth":1.24,"retrieved":0.74},{"truth":1.26,"retrieved":0.92},{"truth":1.30,"retrieved":0.48},{"truth":1.32,"retrieved":0.66},{"truth":1.29,"retrieved":0.85},
{"truth":0.10,"retrieved":0.0},{"truth":0.30,"retrieved":0.01},{"truth":0.50,"retrieved":0.0},{"truth":0.65,"retrieved":0.01}
]
},
"hconcat": [
{
 "title": {"text": "Retrievals in the Inner Swath"},
 "width": 900, "height": 860,
 "data": {"name": "inner"},
 "layer": [
  {"mark": {"type": "point", "filled": true},
   "encoding": {
    "x": {"field": "truth", "type": "quantitative", "scale": {"domain": [0, 15], "nice": false, "zero": false}, "axis": {"orient": "bottom", "values": [0,2,4,6,8,10,12,14], "title": "Truth (mm/h)", "labelPadding": 20, "titlePadding": 8}},
    "y": {"field": "retrieved", "type": "quantitative", "scale": {"domain": [0, 15], "nice": false, "zero": false}, "axis": {"orient": "left", "values": [0,2,4,6,8,10,12,14], "title": "Retrieved (mm/h)", "labelPadding": 10, "titlePadding": 16}}
   }},
  {"mark": {"type": "point", "filled": true, "opacity": 0},
   "encoding": {
    "x": {"field": "truth", "type": "quantitative", "scale": {"domain": [0, 15], "nice": false, "zero": false}, "axis": {"orient": "top", "values": [0,2,4,6,8,10,12,14], "labels": false, "title": null}},
    "y": {"field": "retrieved", "type": "quantitative", "scale": {"domain": [0, 15], "nice": false, "zero": false}, "axis": {"orient": "right", "values": [0,2,4,6,8,10,12,14], "labels": false, "title": null}}
   }}
 ],
 "resolve": {"axis": {"x": "independent", "y": "independent"}}
},
{
 "title": {"text": "Retrieval in the Outer Swath"},
 "width": 878, "height": 842,
 "data": {"name": "outer"},
 "layer": [
  {"mark": {"type": "point", "filled": true},
   "encoding": {
    "x": {"field": "truth", "type": "quantitative", "scale": {"domain": [0, 15], "nice": false, "zero": false}, "axis": {"orient": "bottom", "values": [0,2,4,6,8,10,12,14], "title": "Truth (mm/h)", "labelPadding": 20, "titlePadding": 8}},
    "y": {"field": "retrieved", "type": "quantitative", "scale": {"domain": [0, 15], "nice": false, "zero": false}, "axis": {"orient": "left", "values": [0,2,4,6,8,10,12,14], "title": "Retrieved (mm/h)", "labelPadding": 10, "titlePadding": 16}}
   }},
  {"mark": {"type": "point", "filled": true, "opacity": 0},
   "encoding": {
    "x": {"field": "truth", "type": "quantitative", "scale": {"domain": [0, 15], "nice": false, "zero": false}, "axis": {"orient": "top", "values": [0,2,4,6,8,10,12,14], "labels": false, "title": null}},
    "y": {"field": "retrieved", "type": "quantitative", "scale": {"domain": [0, 15], "nice": false, "zero": false}, "axis": {"orient": "right", "values": [0,2,4,6,8,10,12,14], "labels": false, "title": null}}
   }}
 ],
 "resolve": {"axis": {"x": "independent", "y": "independent"}}
}
]
}
